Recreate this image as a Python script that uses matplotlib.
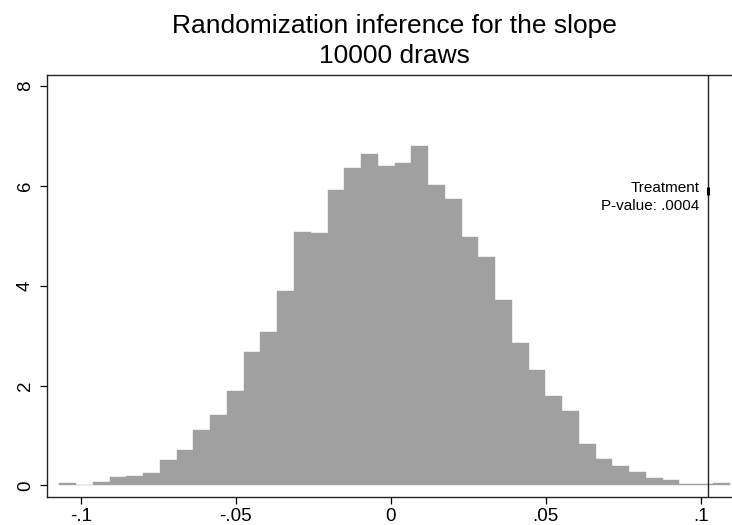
import numpy as np
import matplotlib
matplotlib.use("Agg")
import matplotlib.pyplot as plt

plt.rcParams["font.family"] = ["Liberation Sans", "DejaVu Sans"]

# histogram of 10000 permuted slopes (40 bins, density scale)
bin_start = -0.10699
bin_width = 0.005409
density = [0.04, 0.0, 0.06, 0.16, 0.19, 0.25, 0.50, 0.70, 1.11, 1.40,
           1.89, 2.665, 3.07, 3.895, 5.07, 5.055, 5.91, 6.36, 6.63, 6.39,
           6.45, 6.79, 6.01, 5.73, 4.97, 4.57, 3.71, 2.85, 2.32, 1.78,
           1.48, 0.835, 0.53, 0.387, 0.26, 0.147, 0.10, 0.02, 0.03, 0.05]
treatment_slope = 0.10245
p_value = ".0004"

x_ticks = [-0.1, -0.05, 0, 0.05, 0.1]
x_ticklabels = ["-.1", "-.05", "0", ".05", ".1"]
y_ticks = [0, 2, 4, 6, 8]

fig = plt.figure(figsize=(7.32, 5.25), dpi=100)
ax = fig.add_axes([0.0638, 0.0539, 0.9362, 0.8038])

lefts = bin_start + bin_width * np.arange(len(density))
ax.bar(lefts, density, width=bin_width, align="edge",
       color="#a0a0a0", edgecolor="#a0a0a0", linewidth=0.3)

# observed treatment effect
ax.axvline(treatment_slope, color="#222222", linewidth=1.0)
ax.plot([treatment_slope], [5.9], marker="|", markersize=6,
        markeredgewidth=2.2, color="black")
ax.text(treatment_slope - 0.0029, 5.883, "Treatment", ha="right",
        va="baseline", fontsize=11)
ax.text(treatment_slope - 0.0029, 5.516, f"P-value: {p_value}", ha="right",
        va="baseline", fontsize=11)

ax.set_xlim(-0.11107, 0.1101)
ax.set_ylim(-0.228, 8.227)
ax.set_xticks(x_ticks)
ax.set_xticklabels(x_ticklabels)
ax.set_yticks(y_ticks)
ax.set_yticklabels([str(v) for v in y_ticks], rotation=90, va="center")
ax.tick_params(axis="both", direction="out", length=5.3, width=0.9,
               colors="black", labelsize=13.5)
ax.tick_params(axis="x", pad=3)
ax.tick_params(axis="y", pad=4)

for side in ["left", "top", "bottom"]:
    ax.spines[side].set_color("#222222")
    ax.spines[side].set_linewidth(1.0)
ax.spines["right"].set_visible(False)

# two-line title, centred over the plot region
fig.text(394 / 732, 1 - 33.3 / 525, "Randomization inference for the slope",
         ha="center", va="baseline", fontsize=19)
fig.text(394 / 732, 1 - 63.3 / 525, "10000 draws",
         ha="center", va="baseline", fontsize=19)

fig.savefig("out.png", dpi=100)
